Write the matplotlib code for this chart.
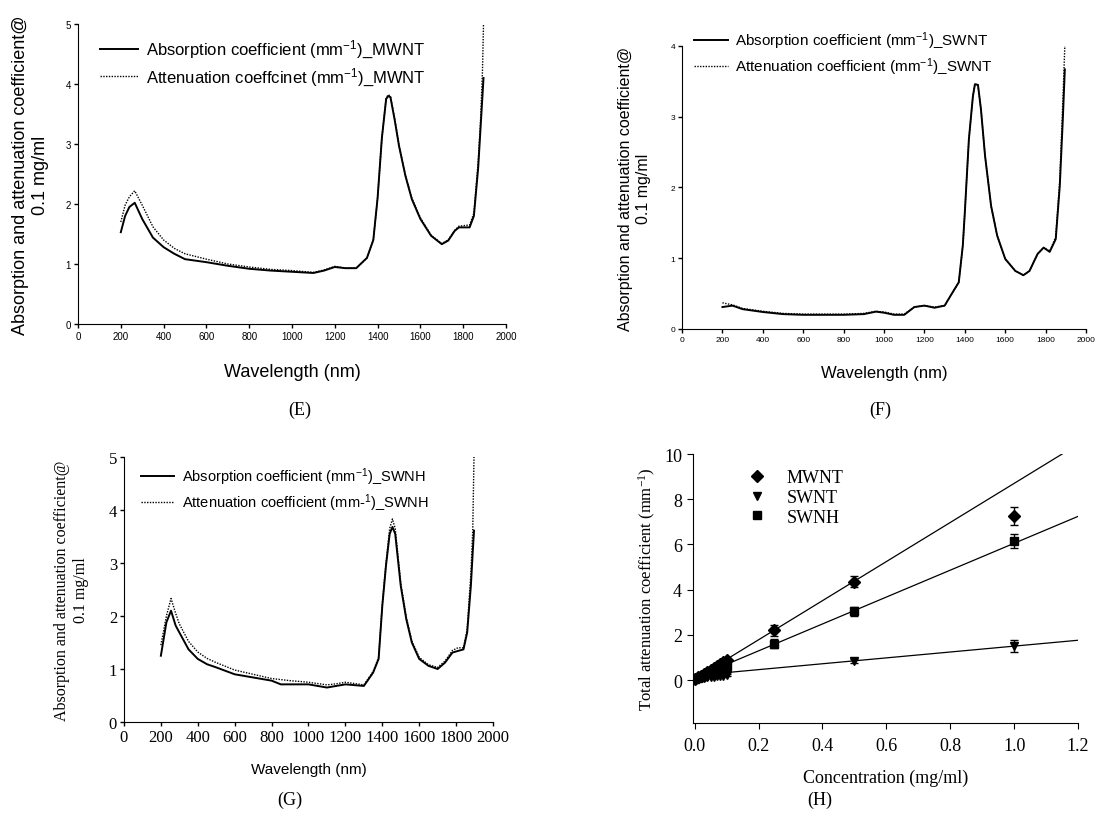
import numpy as np
import matplotlib
matplotlib.use("Agg")
import matplotlib.pyplot as plt

SANS = "Liberation Sans"
SERIF = "Liberation Serif"

# (E) MWNT spectra
wl_e = [200, 220, 240, 265, 300, 350, 400, 450, 500, 600, 700, 800, 900, 1000, 1100, 1150,
        1200, 1250, 1300, 1350, 1380, 1400, 1420, 1440, 1450, 1460, 1480, 1500, 1530, 1560,
        1600, 1650, 1700, 1730, 1760, 1780, 1830, 1850, 1870, 1880, 1890, 1895]
abs_e = [1.53, 1.8, 1.95, 2.02, 1.75, 1.44, 1.28, 1.17, 1.08, 1.03, 0.97, 0.92, 0.89, 0.87, 0.85, 0.89,
         0.95, 0.93, 0.93, 1.1, 1.4, 2.1, 3.1, 3.75, 3.8, 3.78, 3.4, 2.97, 2.47, 2.08,
         1.75, 1.47, 1.33, 1.39, 1.55, 1.61, 1.61, 1.8, 2.6, 3.2, 3.8, 4.1]
att_e = [1.7, 1.98, 2.12, 2.22, 1.98, 1.62, 1.40, 1.26, 1.17, 1.08, 1.0, 0.95, 0.91, 0.89, 0.86, 0.9,
         0.96, 0.93, 0.93, 1.1, 1.4, 2.1, 3.1, 3.77, 3.82, 3.8, 3.42, 2.98, 2.48, 2.1,
         1.77, 1.48, 1.34, 1.4, 1.56, 1.63, 1.65, 1.85, 2.7, 3.3, 4.2, 5.0]

# (F) SWNT spectra
wl_f = [200, 250, 300, 400, 500, 600, 800, 900, 960, 1000, 1050, 1100, 1150, 1200, 1250, 1300,
        1340, 1370, 1390, 1400, 1420, 1440, 1450, 1465, 1480, 1500, 1530, 1560, 1600, 1650,
        1690, 1720, 1760, 1790, 1820, 1850, 1870, 1885, 1895]
abs_f = [0.31, 0.33, 0.28, 0.24, 0.21, 0.2, 0.2, 0.21, 0.245, 0.23, 0.2, 0.2, 0.31, 0.33, 0.3, 0.33,
         0.52, 0.66, 1.18, 1.65, 2.68, 3.29, 3.46, 3.45, 3.1, 2.45, 1.74, 1.32, 0.99, 0.82,
         0.76, 0.82, 1.06, 1.15, 1.09, 1.27, 2.02, 2.96, 3.67]
att_f = [0.37, 0.34, 0.29, 0.25, 0.22, 0.21, 0.21, 0.22, 0.25, 0.24, 0.21, 0.21, 0.31, 0.33, 0.31, 0.33,
         0.52, 0.66, 1.18, 1.65, 2.68, 3.29, 3.46, 3.45, 3.1, 2.45, 1.74, 1.32, 0.99, 0.82,
         0.76, 0.82, 1.06, 1.15, 1.1, 1.3, 2.1, 3.2, 4.0]

# (G) SWNH spectra
wl_g = [200, 230, 255, 280, 300, 350, 400, 450, 500, 600, 700, 800, 850, 900, 1000, 1100, 1150,
        1200, 1300, 1350, 1380, 1400, 1420, 1440, 1455, 1470, 1500, 1530, 1560, 1600, 1650,
        1700, 1740, 1780, 1810, 1840, 1860, 1880, 1890, 1897]
abs_g = [1.25, 1.88, 2.1, 1.82, 1.69, 1.37, 1.19, 1.09, 1.03, 0.9, 0.84, 0.78, 0.71, 0.71, 0.71, 0.65, 0.68,
         0.71, 0.68, 0.93, 1.19, 2.19, 2.95, 3.55, 3.68, 3.55, 2.57, 1.94, 1.5, 1.19, 1.06,
         1.0, 1.12, 1.31, 1.34, 1.37, 1.69, 2.57, 3.2, 3.61]
att_g = [1.45, 2.0, 2.33, 2.05, 1.85, 1.52, 1.32, 1.2, 1.12, 0.98, 0.9, 0.82, 0.8, 0.78, 0.75, 0.7, 0.72,
         0.75, 0.7, 0.95, 1.22, 2.22, 3.0, 3.65, 3.83, 3.65, 2.62, 1.98, 1.53, 1.22, 1.08,
         1.03, 1.15, 1.35, 1.4, 1.4, 1.75, 2.8, 3.6, 5.0]

# (H) total attenuation vs concentration
conc_mw = [0, 0.01, 0.02, 0.03, 0.04, 0.05, 0.06, 0.07, 0.08, 0.09, 0.1, 0.25, 0.5, 1.0]
tot_mw = [0.05, 0.12, 0.2, 0.28, 0.36, 0.45, 0.53, 0.62, 0.7, 0.78, 0.87, 2.2, 4.35, 7.25]
err_mw = [0.05, 0.05, 0.05, 0.05, 0.05, 0.08, 0.08, 0.1, 0.1, 0.1, 0.1, 0.25, 0.25, 0.4]
conc_sw = [0, 0.01, 0.02, 0.03, 0.04, 0.05, 0.06, 0.07, 0.08, 0.09, 0.1, 0.5, 1.0]
tot_sw = [0.05, 0.07, 0.08, 0.1, 0.12, 0.13, 0.15, 0.17, 0.19, 0.2, 0.22, 0.85, 1.5]
err_sw = [0.03, 0.03, 0.03, 0.03, 0.03, 0.03, 0.04, 0.04, 0.04, 0.05, 0.05, 0.1, 0.25]
conc_nh = [0, 0.01, 0.02, 0.03, 0.04, 0.05, 0.06, 0.07, 0.08, 0.09, 0.1, 0.25, 0.5, 1.0]
tot_nh = [0.04, 0.1, 0.15, 0.2, 0.27, 0.33, 0.38, 0.45, 0.5, 0.56, 0.62, 1.6, 3.05, 6.15]
err_nh = [0.03, 0.03, 0.04, 0.04, 0.05, 0.05, 0.06, 0.06, 0.07, 0.07, 0.08, 0.2, 0.2, 0.3]
fit_names = ["MWNT", "SWNT", "SWNH"]
fit_slope = [8.65, 1.3, 5.95]
fit_icept = [0.05, 0.2, 0.1]

fig = plt.figure(figsize=(10.99, 8.2), dpi=100)


def spectrum_axes(rect, wl, absv, attv, ymax, abs_lbl, att_lbl, tick_font, tick_size,
                  ylab_font, ylab_size, leg_size, xlab_size, leg_anchor, hlen):
    ax = fig.add_axes(rect)
    ax.plot(wl, absv, color="black", lw=1.4, label=abs_lbl)
    ax.plot(wl, attv, color="black", lw=1.0, ls=(0, (1, 1)), label=att_lbl)
    ax.set_xlim(0, 2000)
    ax.set_ylim(0, ymax)
    ax.set_xticks(range(0, 2001, 200))
    ax.set_yticks(range(0, ymax + 1))
    for s in ["top", "right"]:
        ax.spines[s].set_visible(False)
    ax.tick_params(direction="out", length=3, width=1, labelsize=tick_size, pad=2)
    for t in ax.get_xticklabels() + ax.get_yticklabels():
        t.set_family(tick_font)
    ax.set_xlabel("Wavelength (nm)", family=SANS, fontsize=xlab_size)
    ax.set_ylabel("Absorption and attenuation coefficient@\n0.1 mg/ml",
                  family=ylab_font, fontsize=ylab_size, linespacing=1.25)
    ax.legend(loc="upper left", bbox_to_anchor=leg_anchor, frameon=False,
              prop={"family": SANS, "size": leg_size}, handlelength=hlen,
              handletextpad=0.5, labelspacing=0.3, borderaxespad=0)
    return ax


axE = spectrum_axes([0.071, 0.6037, 0.3894, 0.3658], wl_e, abs_e, att_e, 5,
                    r"Absorption coefficient (mm$\mathregular{^{-1}}$)_MWNT",
                    r"Attenuation coeffcinet (mm$\mathregular{^{-1}}$)_MWNT",
                    SANS, 7, SANS, 13, 12, 13, (0.035, 0.975), 2.3)
axE.yaxis.labelpad = 12
axE.xaxis.labelpad = 16

axF = spectrum_axes([0.6206, 0.5976, 0.3676, 0.3451], wl_f, abs_f, att_f, 4,
                    r"Absorption coefficient (mm$\mathregular{^{-1}}$)_SWNT",
                    r"Attenuation coefficient (mm$\mathregular{^{-1}}$)_SWNT",
                    SANS, 6, SANS, 11.5, 11, 12, (0.015, 1.08), 2.2)
axF.yaxis.labelpad = 14
axF.xaxis.labelpad = 16

axG = spectrum_axes([0.1128, 0.1183, 0.3358, 0.3232], wl_g, abs_g, att_g, 5,
                    r"Absorption coefficient (mm$\mathregular{^{-1}}$)_SWNH",
                    r"Attenuation coefficient (mm-$\mathregular{^{1}}$)_SWNH",
                    SERIF, 12, SERIF, 11.5, 10.5, 11, (0.03, 0.99), 2.3)
axG.yaxis.labelpad = 14
axG.xaxis.labelpad = 12

# (H)
axH = fig.add_axes([0.6306, 0.1171, 0.3503, 0.3280])
xfit = np.array([0.0, 1.2])
for m, b in zip(fit_slope, fit_icept):
    axH.plot(xfit, m * xfit + b, color="black", lw=0.9)
mk = dict(color="black", ls="none", capsize=3, elinewidth=1, markersize=6)
axH.errorbar(conc_mw, tot_mw, yerr=err_mw, marker="D", label="MWNT", **mk)
axH.errorbar(conc_sw, tot_sw, yerr=err_sw, marker="v", label="SWNT", **mk)
axH.errorbar(conc_nh, tot_nh, yerr=err_nh, marker="s", label="SWNH", **mk)
axH.set_xlim(-0.005, 1.2)
axH.set_ylim(-1.9, 10)
axH.set_xticks([0, 0.2, 0.4, 0.6, 0.8, 1.0, 1.2])
axH.set_xticklabels(["0.0", "0.2", "0.4", "0.6", "0.8", "1.0", "1.2"])
axH.set_yticks([0, 2, 4, 6, 8, 10])
for s in ["top", "right"]:
    axH.spines[s].set_visible(False)
axH.tick_params(direction="out", length=4, labelsize=13, pad=4)
axH.tick_params(axis="x", pad=6)
for t in axH.get_xticklabels() + axH.get_yticklabels():
    t.set_family(SERIF)
axH.set_xlabel("Concentration (mg/ml)", family=SERIF, fontsize=13, labelpad=11)
axH.set_ylabel(r"Total attenuation coefficient (mm$\mathregular{^{-1}}$)", family=SERIF, fontsize=12)
handles, labels = axH.get_legend_handles_labels()
axH.legend([h[0] for h in handles], labels, loc="upper left", bbox_to_anchor=(0.125, 0.97),
           frameon=False, numpoints=1, handlelength=1, handletextpad=1.1, labelspacing=0.15,
           prop={"family": SERIF, "size": 13}, borderaxespad=0)

# panel letters
for x, y, s in [(300, 410, "(E)"), (880, 410, "(F)"), (290, 800, "(G)"), (820, 800, "(H)")]:
    fig.text(x / 1099, 1 - y / 820, s, family=SERIF, fontsize=13, ha="center", va="center")

fig.savefig("out.png", dpi=100)
